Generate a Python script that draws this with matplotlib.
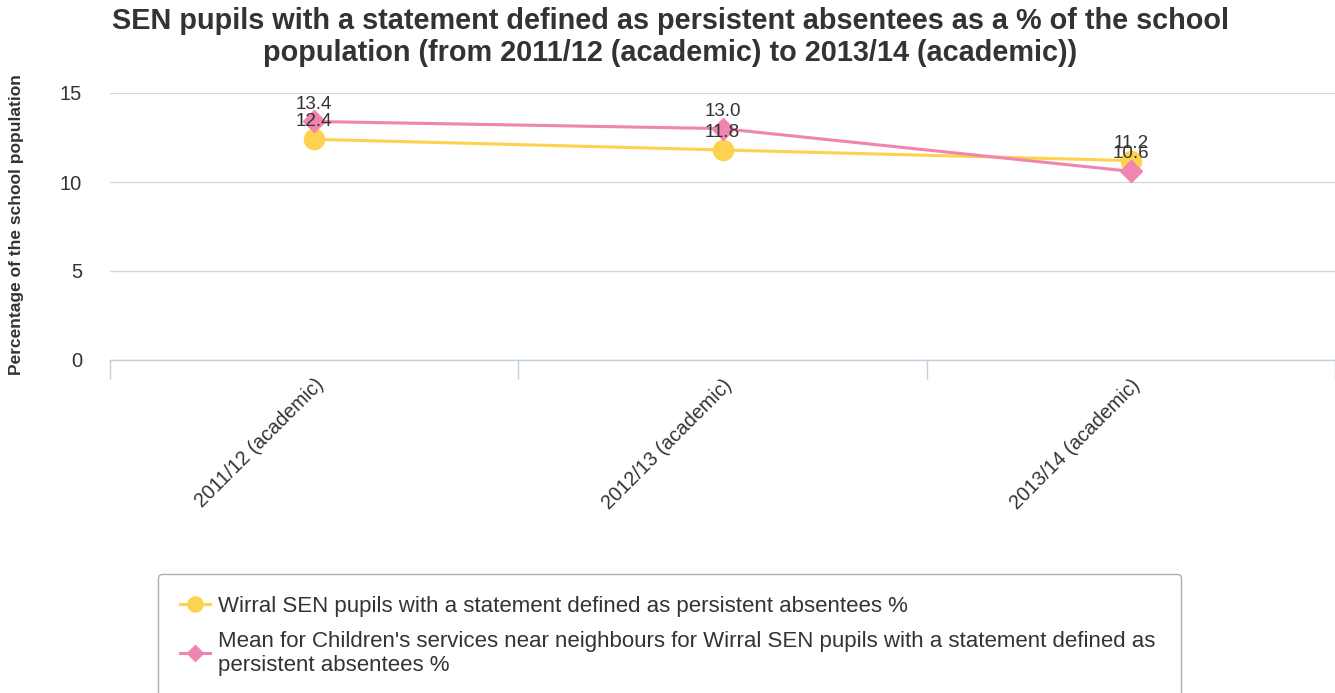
import numpy as np
import matplotlib
matplotlib.use("Agg")
import matplotlib.pyplot as plt

plt.rcParams["font.family"] = ["Liberation Sans", "DejaVu Sans"]

# Data
categories = ["2011/12 (academic)", "2012/13 (academic)", "2013/14 (academic)"]
wirral = [12.4, 11.8, 11.2]
neighbours = [13.4, 13.0, 10.6]
series_names = [
    "Wirral SEN pupils with a statement defined as persistent absentees %",
    "Mean for Children's services near neighbours for Wirral SEN pupils with a statement defined as\npersistent absentees %",
]
title = ("SEN pupils with a statement defined as persistent absentees as a % of the school\n"
         "population (from 2011/12 (academic) to 2013/14 (academic))")
y_ticks = [0, 5, 10, 15]

YELLOW = "#fdd24e"
PINK = "#ef85b0"
TXT = "#333333"

W, H = 1335, 693
fig = plt.figure(figsize=(W / 100, H / 100), dpi=100)
ax = fig.add_axes([110 / W, 1 - 360 / H, (W - 110) / W, (360 - 93) / H])

x = np.arange(len(categories))
l1, = ax.plot(x, wirral, color=YELLOW, lw=2.2, marker="o", ms=14.5, zorder=3, clip_on=False)
l2, = ax.plot(x, neighbours, color=PINK, lw=2.2, marker="D", ms=11, zorder=4, clip_on=False)

# data labels sit just above each point (they overlap in the original too)
for vals in (wirral, neighbours):
    for xi, v in zip(x, vals):
        ax.annotate(f"{v:.1f}", (xi, v), xytext=(0, 12.5), textcoords="offset points",
                    ha="center", va="center", fontsize=13.5, color=TXT, zorder=6)

ax.set_xlim(-0.5, len(categories) - 0.5)
ax.set_ylim(0, 15)
ax.set_yticks(y_ticks)
ax.set_yticklabels([str(t) for t in y_ticks], fontsize=14.5, color=TXT)
ax.grid(axis="y", color="#d8d8d8", lw=1)
ax.set_axisbelow(True)
for s in ("top", "right", "left"):
    ax.spines[s].set_visible(False)
ax.spines["bottom"].set_color("#c0d0e0")
ax.spines["bottom"].set_linewidth(1)
ax.tick_params(axis="y", length=0, pad=20)

# category boundary ticks
ax.set_xticks(np.arange(-0.5, len(categories)), minor=True)
ax.tick_params(axis="x", which="minor", length=14, color="#c0d0e0", width=1)
ax.set_xticks(x)
ax.set_xticklabels(categories, rotation=45, ha="right", rotation_mode="anchor",
                   fontsize=14.2, color=TXT)
ax.tick_params(axis="x", which="major", length=0, pad=11)

fig.text(17 / W, 1 - 225 / H, "Percentage of the school population", rotation=90,
         ha="center", va="center", fontsize=12.5, fontweight="bold", color=TXT)

fig.text(670 / W, 1 - 37 / H, title, ha="center", va="center", fontsize=20.8,
         fontweight="bold", color=TXT, linespacing=1.15)

leg = fig.legend([l1, l2], series_names, loc="upper left",
                 bbox_to_anchor=(158 / W, 1 - 574 / H - 0.01, (1181 - 158) / W, 0.01),
                 mode="expand", borderaxespad=0, fontsize=16, frameon=True, fancybox=True,
                 edgecolor="#999999", handlelength=1.35, handletextpad=0.36,
                 borderpad=1.0, labelspacing=0.6, markerscale=0.75)
leg.get_frame().set_linewidth(1)
for t in leg.get_texts():
    t.set_color(TXT)
    t.set_linespacing(1.2)

fig.savefig("out.png", dpi=100)
